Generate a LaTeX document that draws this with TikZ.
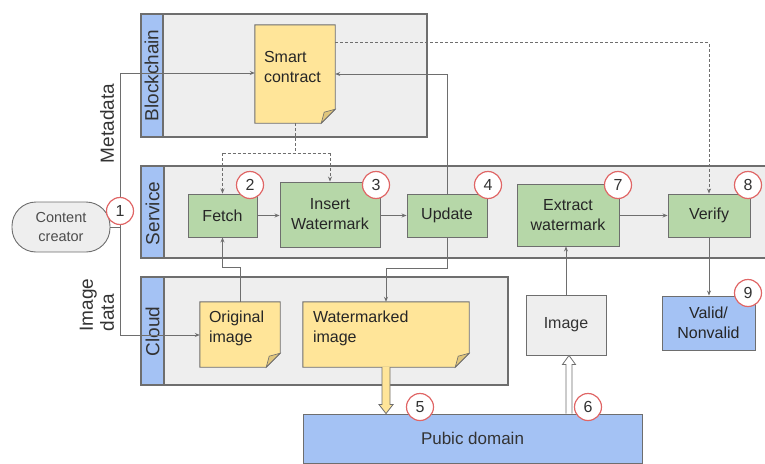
\documentclass[tikz,border=0pt]{standalone}
\usepackage{fontspec}
\setmainfont{Liberation Sans}
\usetikzlibrary{arrows.meta,positioning,calc}

\pgfdeclarelayer{under}
\pgfdeclarelayer{paper}
\pgfsetlayers{under,paper,main}

\definecolor{laneblue}{RGB}{164,194,244}
\definecolor{lanegrey}{RGB}{238,238,238}
\definecolor{noteyellow}{RGB}{255,229,153}
\definecolor{foldyellow}{RGB}{224,198,124}
\definecolor{stepgreen}{RGB}{182,215,168}
\definecolor{edgegrey}{RGB}{110,110,110}
\definecolor{markred}{RGB}{224,102,102}

% yellow sheet with a folded corner, drawn under the named node
\newcommand{\foldnote}[1]{%
  \begin{pgfonlayer}{paper}
  \filldraw[draw=edgegrey, fill=noteyellow, line width=0.9pt] (#1.north west) -- (#1.north east) -- ([yshift=-14pt]#1.south east) -- ([xshift=-14pt]#1.south east) -- (#1.south west) -- cycle;
  \filldraw[draw=edgegrey, fill=foldyellow, line width=0.6pt] ([yshift=-14pt]#1.south east) -- ([xshift=-14pt]#1.south east) -- ([xshift=-11pt,yshift=-11pt]#1.south east) -- cycle;
  \end{pgfonlayer}}

\begin{document}
\begin{tikzpicture}[x=1pt,y=1pt,yscale=-1,
  task/.style={draw=edgegrey, fill=stepgreen, line width=0.9pt, inner sep=0pt, align=center, text=black!85, font=\fontsize{16}{20}\selectfont},
  sheet/.style={inner sep=0pt},
  sheettext/.style={inner sep=0pt, align=left, text=black!85, font=\fontsize{16}{20}\selectfont},
  badge/.style={circle, draw=markred, fill=white, line width=1.2pt, minimum size=27pt, inner sep=0pt, text=black!80, font=\fontsize{16}{16}\selectfont},
  lane/.style={draw=edgegrey, fill=lanegrey, line width=1.2pt},
  laneband/.style={draw=edgegrey, fill=laneblue, line width=1.2pt},
  lanelabel/.style={rotate=90, inner sep=0pt, text=black!80, font=\fontsize{19}{19}\selectfont},
  sidelabel/.style={rotate=90, inner sep=0pt, align=left, text=black!80, font=\fontsize{19}{21}\selectfont},
  link/.style={draw=edgegrey, line width=0.9pt},
  flow/.style={link, -{Stealth[length=5pt,width=4pt]}},
  dashflow/.style={flow, dash pattern=on 3pt off 2pt},
  fatline/.style={draw=edgegrey, line width=0.8pt, line join=miter}
]
\useasboundingbox (0,0) rectangle (765,463);

%% lanes
\begin{pgfonlayer}{under}
\draw[lane] (141,14) rectangle (427,137);
\draw[laneband] (141,14) rectangle (163,137);
\draw[lane] (141,166) rectangle (775,258);
\draw[laneband] (141,166) rectangle (164,258);
\draw[lane] (141,277) rectangle (508,385);
\draw[laneband] (141,277) rectangle (164,385);
\end{pgfonlayer}
\node[lanelabel] (chainlbl) at (151.5,75.5) {Blockchain};
\node[lanelabel] (servicelbl) at (152.5,213.5) {Service};
\node[lanelabel] (cloudlbl) at (152.5,331.5) {Cloud};

%% sheets
\node[sheet, minimum width=80pt, minimum height=98pt] (contract) at (295,74) {};
\foldnote{contract}
\node[sheettext, below right=26pt and 9pt of contract.north west] (contracttxt) {Smart\\contract};
\node[sheet, minimum width=80pt, minimum height=65pt] (orig) at (240,334.5) {};
\foldnote{orig}
\node[sheettext, below right=9pt and 9pt of orig.north west] (origtxt) {Original\\image};
\node[sheet, minimum width=166pt, minimum height=65pt] (marked) at (386,334.5) {};
\foldnote{marked}
\node[sheettext, below right=9pt and 10pt of marked.north west] (markedtxt) {Watermarked\\image};

%% service steps
\node[task, minimum width=69pt, minimum height=43pt] (fetch) at (222.5,215.5) {Fetch};
\node[task, minimum width=100pt, minimum height=65pt] (insert) at (330,214.5) {Insert\\Watermark};
\node[task, minimum width=80pt, minimum height=43pt] (update) at (447,215.5) {Update};
\node[task, minimum width=102pt, minimum height=62pt] (extract) at (568,215) {Extract\\watermark};
\node[task, minimum width=82pt, minimum height=43pt] (verify) at (709,215.5) {Verify};

%% other boxes
\node[draw=edgegrey, fill=lanegrey, rounded corners=24pt, line width=0.9pt, minimum width=98pt, minimum height=50pt, align=center, text=black!70, font=\fontsize{14.5}{19}\selectfont] (creator) at (61,227) {Content\\creator};
\node[draw=edgegrey, fill=lanegrey, line width=0.9pt, minimum width=80pt, minimum height=60pt, text=black!80, font=\fontsize{16}{20}\selectfont] (img) at (566,325) {Image};
\node[draw=edgegrey, fill=laneblue, line width=0.9pt, minimum width=93pt, minimum height=54pt, align=center, text=black!85, font=\fontsize{16}{20}\selectfont] (valid) at (708.5,323) {Valid/\\Nonvalid};
\node[draw=edgegrey, fill=laneblue, line width=0.9pt, minimum width=339pt, minimum height=49pt, text=black!80, font=\fontsize{17}{20}\selectfont] (pub) at (472.5,438.5) {Pubic domain};

%% side labels
\node[sidelabel] (metalbl) at (107,123.5) {Metadata};
\node[sidelabel] (datalbl) at (97,305) {Image\\data};

%% trunk from the content creator
\coordinate (trunk) at (120,227);
\coordinate (trunktop) at (120,73);
\coordinate (trunkbot) at (120,335);
\draw[link] (creator.east) -- (trunk);
\draw[flow] (trunk) -- (trunktop) -- (trunktop -| contract.west);
\draw[flow] (trunk) -- (trunkbot) -- (trunkbot -| orig.west);

%% dashed reads of the contract
\draw[link, dash pattern=on 3pt off 2pt] (contract.south) -- ++(0,30) coordinate (split);
\draw[link, dash pattern=on 3pt off 2pt] (split -| fetch.north) -- (split -| insert.north);
\draw[dashflow] (split -| fetch.north) -- (fetch.north);
\draw[dashflow] (split -| insert.north) -- (insert.north);
\draw[dashflow] ($(contract.north east)+(0,18)$) -| (verify.north);

%% solid flows
\draw[flow] (fetch.east) -- (fetch.east -| insert.west);
\draw[flow] (insert.east |- update.west) -- (update.west);
\draw[flow] (extract.east |- verify.west) -- (verify.west);
\draw[flow] (update.north) |- (contract.east);
\draw[flow] (update.south) -- ++(0,31) -| (marked.north);
\draw[flow] (orig.north) -- ++(0,-34) -| (fetch.south);
\draw[flow] (img.north) -- (img.north |- extract.south);
\draw[flow] (verify.south) -- (verify.south |- valid.north);

%% publish and collect
\coordinate (pubin) at (marked.south |- pub.north);
\filldraw[fatline, fill=noteyellow] ($(marked.south)+(-4,0)$) -- ($(pubin)+(-4,-9)$) -- ($(pubin)+(-7,-9)$) -- (pubin) -- ($(pubin)+(7,-9)$) -- ($(pubin)+(4,-9)$) -- ($(marked.south)+(4,0)$);
\coordinate (pubout) at ($(img.south |- pub.north)+(3,0)$);
\coordinate (imgin) at ($(img.south)+(3,0)$);
\filldraw[fatline, fill=white] ($(pubout)+(-3,0)$) -- ($(imgin)+(-3,9)$) -- ($(imgin)+(-6.5,9)$) -- (imgin) -- ($(imgin)+(6.5,9)$) -- ($(imgin)+(3,9)$) -- ($(pubout)+(3,0)$);

%% step numbers
\foreach \n/\x/\y in {1/120/211, 2/250/185, 3/376/185, 4/488/185, 5/420/407, 6/588/407, 7/618/185, 8/748/185, 9/748/293}
  \node[badge] (step\n) at (\x,\y) {\n};
\end{tikzpicture}
\end{document}
